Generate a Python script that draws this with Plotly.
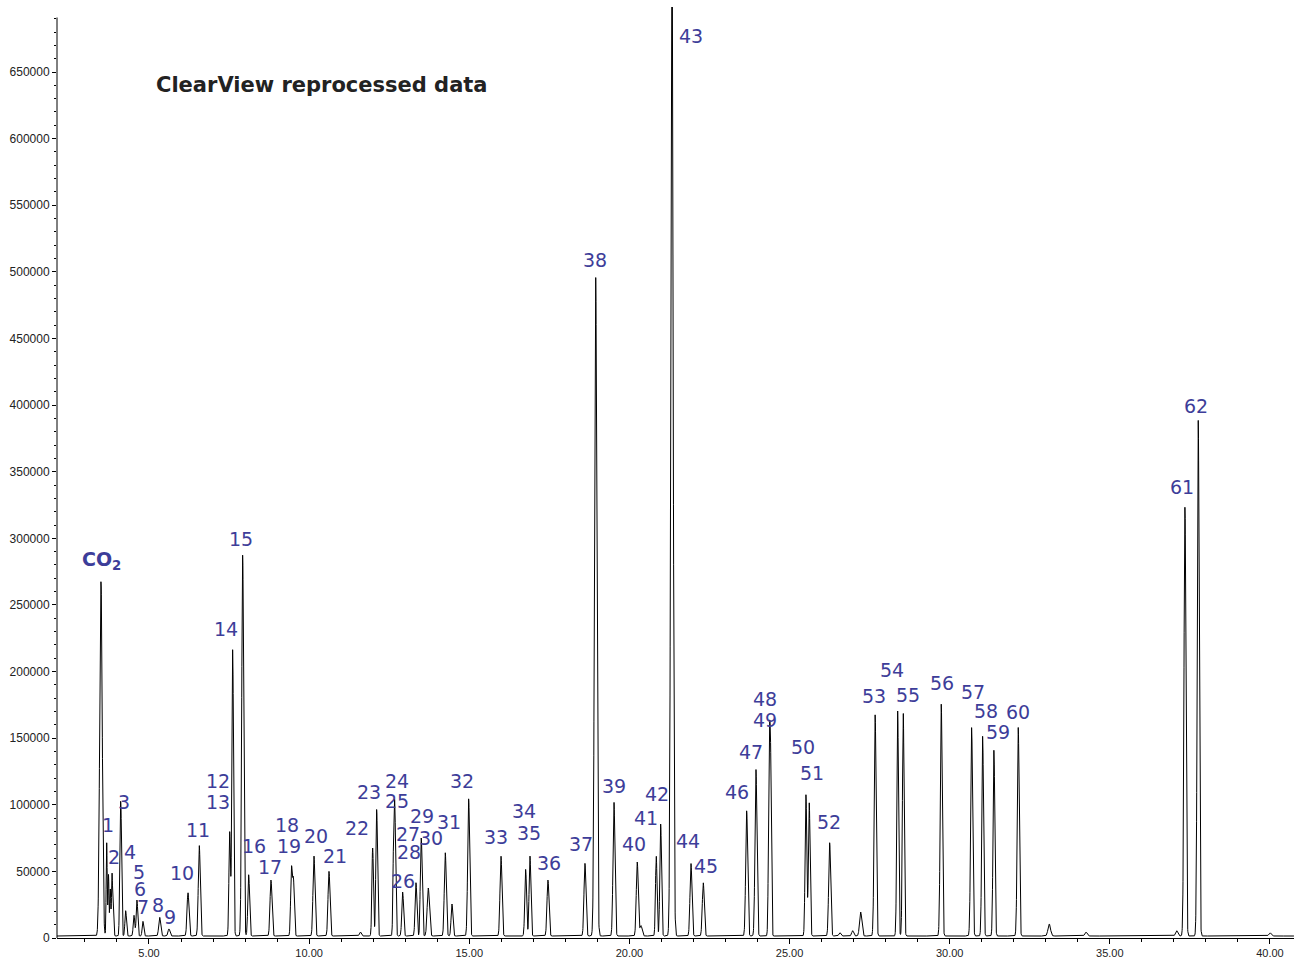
import numpy as np
import plotly.graph_objects as go

# Peak table: retention time (min), apex height (counts), peak width sigma (min)
peak_rt = [3.501, 3.679, 3.736, 3.792, 3.845, 3.886, 4.095, 4.126, 4.273, 4.532,
           4.625, 4.813, 5.334, 5.624, 6.218, 6.570, 7.520, 7.613, 7.925, 8.113,
           8.809, 9.449, 9.511, 10.151, 10.620, 11.600, 11.984, 12.109, 12.640, 12.680,
           12.921, 13.336, 13.483, 13.514, 13.720, 14.251, 14.460, 14.981, 15.990, 16.761,
           16.895, 17.457, 18.612, 18.946, 19.518, 20.245, 20.361, 20.838, 20.976, 21.329,
           21.922, 22.306, 23.661, 23.951, 24.366, 24.410, 25.512, 25.615, 26.252, 26.570,
           26.970, 27.220, 27.672, 28.375, 28.550, 29.736, 30.685, 31.029, 31.381, 32.140,
           33.108, 34.254, 37.086, 37.345, 37.760, 40.000]
peak_height = [266000, 70000, 46000, 35000, 46000, 32000, 48000, 86000, 19000, 15500,
               27000, 11000, 14000, 5300, 32500, 68000, 78000, 215000, 286000, 46000,
               42000, 50000, 41000, 60000, 48500, 3000, 66000, 95000, 64000, 84000,
               33000, 40000, 40000, 52000, 36000, 62500, 24000, 103000, 60000, 50000,
               60000, 42000, 54500, 495000, 100500, 55500, 7800, 60000, 84000, 760000,
               54500, 40000, 94000, 125000, 138000, 116000, 106000, 100000, 70000, 2500,
               4000, 18000, 166000, 169000, 167500, 174000, 156500, 150000, 139500, 156500,
               9000, 3000, 4000, 322000, 387000, 2500]
peak_sigma = [0.04, 0.016, 0.016, 0.016, 0.016, 0.016, 0.018, 0.021, 0.024, 0.024,
              0.024, 0.024, 0.03, 0.03, 0.03, 0.03, 0.024, 0.026, 0.03, 0.027,
              0.03, 0.026, 0.026, 0.03, 0.03, 0.03, 0.024, 0.026, 0.022, 0.024,
              0.027, 0.027, 0.022, 0.024, 0.035, 0.03, 0.027, 0.03, 0.03, 0.027,
              0.027, 0.03, 0.03, 0.036, 0.03, 0.03, 0.035, 0.024, 0.026, 0.036,
              0.03, 0.03, 0.03, 0.03, 0.024, 0.022, 0.026, 0.026, 0.03, 0.03,
              0.03, 0.035, 0.03, 0.026, 0.026, 0.03, 0.03, 0.027, 0.027, 0.03,
              0.04, 0.035, 0.035, 0.03, 0.03, 0.035]
baseline = 1500

# Compound labels and where they sit (given in screen units, converted below)
label_text = ["CO<sub>2</sub>", "1", "2", "3", "4", "5", "6", "7", "8", "9", "10", "11",
              "12", "13", "14", "15", "16", "17", "18", "19", "20", "21", "22", "23",
              "24", "25", "26", "27", "28", "29", "30", "31", "32", "33", "34", "35",
              "36", "37", "38", "39", "40", "41", "42", "43", "44", "45", "46", "47",
              "48", "49", "50", "51", "52", "53", "54", "55", "56", "57", "58", "59",
              "60", "61", "62"]
label_px = [102, 108, 114, 124, 130, 139, 140, 143, 158, 170, 182, 198,
            218, 218, 226, 241, 254, 270, 287, 289, 316, 335, 357, 369,
            397, 397, 403, 408, 409, 422, 431, 449, 462, 496, 524, 529,
            549, 581, 595, 614, 634, 646, 657, 691, 688, 706, 737, 751,
            765, 765, 803, 812, 829, 874, 892, 908, 942, 973, 986, 998,
            1018, 1182, 1196]
label_py = [560, 824, 856, 801, 851, 871, 888, 906, 904, 916, 872, 829,
            780, 801, 628, 538, 845, 866, 824, 845, 835, 855, 827, 791,
            780, 800, 880, 833, 851, 815, 837, 821, 780, 836, 810, 832,
            862, 843, 259, 785, 843, 817, 793, 35, 840, 865, 791, 751,
            698, 719, 746, 772, 821, 695, 669, 694, 682, 691, 710, 731,
            711, 486, 405]

# Axis scale: 32.03 px per minute, 750.6 counts per px
PX_PER_MIN = 32.03
CNT_PER_PX = 750.6
label_x = [5 + (p - 149) / PX_PER_MIN for p in label_px]
label_y = [(937.5 - p) * CNT_PER_PX for p in label_py]

x_min, x_max = 2.128, 40.75
y_max = 931 * CNT_PER_PX

t = np.arange(x_min, x_max, 0.004)
signal = np.full_like(t, float(baseline))
for rt, h, s in zip(peak_rt, peak_height, peak_sigma):
    signal += h * np.exp(-0.5 * ((t - rt) / s) ** 2)

fig = go.Figure()
fig.add_trace(go.Scatter(x=t, y=signal, mode="lines",
                         line=dict(color="black", width=1), hoverinfo="skip"))

label_color = "#3d3d99"
for txt, lx, ly in zip(label_text, label_x, label_y):
    fig.add_annotation(x=lx, y=ly, text=txt, showarrow=False,
                       xanchor="center", yanchor="middle",
                       font=dict(family="DejaVu Sans", size=19, color=label_color,
                                 weight="bold" if txt.startswith("CO") else "normal"))

fig.add_annotation(x=5 + (154 - 149) / PX_PER_MIN, y=(937.5 - 84) * CNT_PER_PX,
                   text="ClearView reprocessed data", showarrow=False,
                   xanchor="left", yanchor="middle",
                   font=dict(family="DejaVu Sans", size=21, color="#222222", weight="bold"))

# Vertical axis line stops just short of the top of the plotting area
fig.add_shape(type="line", xref="paper", yref="y", x0=0, x1=0, y0=0,
              y1=(937.5 - 17) * CNT_PER_PX, line=dict(color="black", width=1))

fig.update_layout(
    width=1294, height=960,
    margin=dict(l=57, r=0, t=7, b=22),
    paper_bgcolor="white", plot_bgcolor="white",
    showlegend=False,
    xaxis=dict(range=[x_min, x_max], showgrid=False, zeroline=False,
               showline=True, linecolor="black", linewidth=1,
               tick0=0, dtick=5, tickformat=".2f", ticks="outside", ticklen=5,
               tickcolor="black",
               tickfont=dict(family="Liberation Sans", size=11, color="#222222"),
               minor=dict(dtick=1, ticks="outside", ticklen=3, tickcolor="black")),
    yaxis=dict(range=[0, y_max], showgrid=False, zeroline=False, showline=False,
               tick0=0, dtick=50000, tickformat="d", ticks="outside", ticklen=4,
               tickcolor="black",
               tickfont=dict(family="Liberation Sans", size=12, color="#222222"),
               minor=dict(dtick=10000, ticks="outside", ticklen=2, tickcolor="black")),
)

fig.write_html("out.html")
